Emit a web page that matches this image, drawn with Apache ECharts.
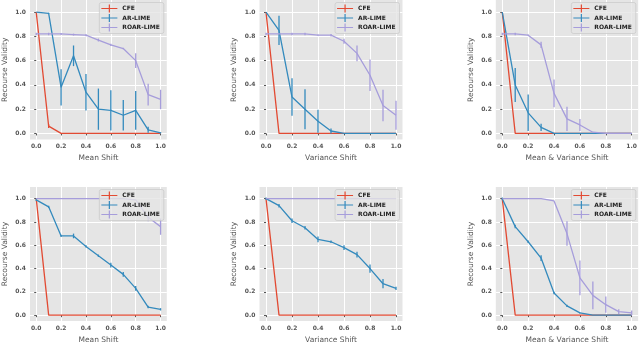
<!DOCTYPE html>
<html>
<head>
<meta charset="utf-8">
<script src="https://cdn.jsdelivr.net/npm/echarts@6/dist/echarts.min.js"></script>
<style>
  html, body { margin: 0; padding: 0; background: #fff; }
  #main { width: 640px; height: 345px; }
</style>
</head>
<body>
<div id="main"></div>
<script>
// x 轴：偏移量
const shifts = [0, 0.1, 0.2, 0.3, 0.4, 0.5, 0.6, 0.7, 0.8, 0.9, 1.0]
const yTicks = [0, 0.2, 0.4, 0.6, 0.8, 1.0]
const methods = ['CFE', 'AR-LIME', 'ROAR-LIME']
const colors = ['#E24A33', '#348ABD', '#A69DDB']
const xTitles = ['Mean Shift', 'Variance Shift', 'Mean & Variance Shift',
  'Mean Shift', 'Variance Shift', 'Mean & Variance Shift']

// 第一行
const p1Cfe = [1.0, 0.06, 0, 0, 0, 0, 0, 0, 0, 0, 0]
const p1CfeErr = [0, 0.015, 0, 0, 0, 0, 0, 0, 0, 0, 0]
const p1Ar = [1.0, 0.99, 0.38, 0.64, 0.34, 0.20, 0.19, 0.15, 0.19, 0.03, 0.005]
const p1ArErr = [0, 0.005, 0.15, 0.085, 0.15, 0.17, 0.165, 0.125, 0.16, 0.025, 0.005]
const p1Roar = [0.82, 0.82, 0.82, 0.815, 0.81, 0.77, 0.73, 0.70, 0.60, 0.32, 0.28]
const p1RoarErr = [0.01, 0.01, 0.008, 0.008, 0.008, 0.012, 0.01, 0.006, 0.06, 0.09, 0.08]

const p2Cfe = [1.0, 0, 0, 0, 0, 0, 0, 0, 0, 0, 0]
const p2CfeErr = [0, 0, 0, 0, 0, 0, 0, 0, 0, 0, 0]
const p2Ar = [1.0, 0.85, 0.30, 0.20, 0.10, 0.02, 0, 0, 0, 0, 0]
const p2ArErr = [0, 0.12, 0.155, 0.165, 0.095, 0.02, 0, 0, 0, 0, 0]
const p2Roar = [0.82, 0.82, 0.82, 0.82, 0.81, 0.81, 0.76, 0.66, 0.48, 0.23, 0.15]
const p2RoarErr = [0.01, 0, 0.01, 0.01, 0.005, 0.01, 0.02, 0.065, 0.13, 0.13, 0.12]

const p3Cfe = [1.0, 0, 0, 0, 0, 0, 0, 0, 0, 0, 0]
const p3CfeErr = [0, 0, 0, 0, 0, 0, 0, 0, 0, 0, 0]
const p3Ar = [1.0, 0.40, 0.17, 0.05, 0, 0, 0, 0, 0, 0, 0]
const p3ArErr = [0, 0.14, 0.15, 0.03, 0, 0, 0, 0, 0, 0, 0]
const p3Roar = [0.82, 0.82, 0.81, 0.73, 0.33, 0.12, 0.07, 0.01, 0, 0, 0]
const p3RoarErr = [0.01, 0.01, 0.005, 0.025, 0.115, 0.1, 0.05, 0, 0, 0, 0]

// 第二行
const p4Cfe = [1.0, 0, 0, 0, 0, 0, 0, 0, 0, 0, 0]
const p4CfeErr = [0, 0, 0, 0, 0, 0, 0, 0, 0, 0, 0]
const p4Ar = [0.99, 0.93, 0.68, 0.68, 0.59, 0.51, 0.43, 0.35, 0.23, 0.07, 0.05]
const p4ArErr = [0.01, 0.01, 0.01, 0.02, 0.01, 0.01, 0.02, 0.02, 0.02, 0.01, 0.01]
const p4Roar = [1.0, 1.0, 1.0, 1.0, 1.0, 1.0, 1.0, 1.0, 0.99, 0.84, 0.76]
const p4RoarErr = [0, 0, 0, 0, 0, 0, 0, 0, 0, 0.035, 0.07]

const p5Cfe = [1.0, 0, 0, 0, 0, 0, 0, 0, 0, 0, 0]
const p5CfeErr = [0, 0, 0, 0, 0, 0, 0, 0, 0, 0, 0]
const p5Ar = [1.0, 0.94, 0.81, 0.75, 0.65, 0.63, 0.58, 0.52, 0.40, 0.27, 0.23]
const p5ArErr = [0.01, 0.015, 0.02, 0.015, 0.025, 0.01, 0.02, 0.025, 0.035, 0.04, 0.015]
const p5Roar = [1.0, 1.0, 1.0, 1.0, 1.0, 1.0, 1.0, 1.0, 1.0, 1.0, 1.0]
const p5RoarErr = [0, 0, 0, 0, 0, 0, 0, 0, 0, 0, 0]

const p6Cfe = [1.0, 0, 0, 0, 0, 0, 0, 0, 0, 0, 0]
const p6CfeErr = [0, 0, 0, 0, 0, 0, 0, 0, 0, 0, 0]
const p6Ar = [1.0, 0.76, 0.63, 0.49, 0.19, 0.08, 0.02, 0, 0, 0, 0]
const p6ArErr = [0.01, 0.015, 0.01, 0.025, 0.01, 0.01, 0.005, 0, 0, 0, 0]
const p6Roar = [1.0, 1.0, 1.0, 1.0, 0.98, 0.70, 0.32, 0.17, 0.09, 0.03, 0.02]
const p6RoarErr = [0, 0, 0, 0, 0, 0.105, 0.15, 0.12, 0.07, 0.02, 0.02]

const panels = [
  [[p1Cfe, p1CfeErr], [p1Ar, p1ArErr], [p1Roar, p1RoarErr]],
  [[p2Cfe, p2CfeErr], [p2Ar, p2ArErr], [p2Roar, p2RoarErr]],
  [[p3Cfe, p3CfeErr], [p3Ar, p3ArErr], [p3Roar, p3RoarErr]],
  [[p4Cfe, p4CfeErr], [p4Ar, p4ArErr], [p4Roar, p4RoarErr]],
  [[p5Cfe, p5CfeErr], [p5Ar, p5ArErr], [p5Roar, p5RoarErr]],
  [[p6Cfe, p6CfeErr], [p6Ar, p6ArErr], [p6Roar, p6RoarErr]]
]

// 布局
const colLeft = [23.8, 259.5, 495.8]
const rowTop = [0, 187]
const gridW = 143
const gridH = 139.5

const tickColor = '#555'
const legendIcon = 'path://M0,3.4H16V4.6H0Z M7.4,0H8.6V8H7.4Z'

const myChart = echarts.init(document.getElementById('main'))

const grids = [], xAxes = [], yAxes = [], series = [], legends = []

panels.forEach((panel, i) => {
  const left = colLeft[i % 3]
  const top = rowTop[Math.floor(i / 3)]
  grids.push({ left: left, top: top, width: gridW, height: gridH, show: true, backgroundColor: '#E5E5E5', borderWidth: 0 })
  xAxes.push({
    gridIndex: i,
    type: 'value',
    min: -0.05,
    max: 1.05,
    splitNumber: 5,
    name: xTitles[i],
    nameLocation: 'middle',
    nameGap: 15,
    nameTextStyle: { color: tickColor, fontSize: 7.5, fontFamily: 'DejaVu Sans' },
    axisLine: { show: false },
    axisTick: { show: true, length: 2, lineStyle: { color: tickColor } },
    axisLabel: {
      color: tickColor, fontSize: 6, fontWeight: 'bold', fontFamily: 'DejaVu Sans', margin: 4,
      showMinLabel: false, showMaxLabel: false,
      formatter: v => v.toFixed(1)
    },
    splitLine: { show: true, showMinLine: false, showMaxLine: false, lineStyle: { color: '#fff', width: 1 } }
  })
  yAxes.push({
    gridIndex: i,
    type: 'value',
    min: -0.05,
    max: 1.1,
    splitNumber: 5,
    name: 'Recourse Validity',
    nameLocation: 'middle',
    nameGap: 21,
    nameTextStyle: { color: tickColor, fontSize: 7.5, fontFamily: 'DejaVu Sans' },
    axisLine: { show: false },
    axisTick: { show: true, length: 2, lineStyle: { color: tickColor } },
    axisLabel: {
      color: tickColor, fontSize: 6, fontWeight: 'bold', fontFamily: 'DejaVu Sans', margin: 4,
      showMinLabel: false, showMaxLabel: false,
      formatter: v => v.toFixed(1)
    },
    splitLine: { show: true, showMinLine: false, showMaxLine: false, lineStyle: { color: '#fff', width: 1 } }
  })

  panel.forEach(([vals, errs], k) => {
    series.push({
      name: methods[k],
      type: 'line',
      xAxisIndex: i,
      yAxisIndex: i,
      data: shifts.map((x, j) => [x, vals[j]]),
      showSymbol: false,
      symbol: 'none',
      lineStyle: { color: colors[k], width: 1.3 },
      itemStyle: { color: colors[k] },
      z: 2 + k,
      silent: true,
      animation: false
    })
    series.push({
      name: methods[k] + '-err',
      type: 'custom',
      xAxisIndex: i,
      yAxisIndex: i,
      data: shifts.map((x, j) => [x, vals[j] - errs[j], vals[j] + errs[j]]).filter((d, j) => errs[j] > 0),
      encode: { x: 0, y: [1, 2] },
      renderItem: function (params, api) {
        const p1 = api.coord([api.value(0), api.value(1)])
        const p2 = api.coord([api.value(0), api.value(2)])
        return {
          type: 'line',
          shape: { x1: p1[0], y1: p1[1], x2: p2[0], y2: p2[1] },
          style: { stroke: colors[k], lineWidth: 1.3 }
        }
      },
      z: 2 + k,
      silent: true,
      animation: false
    })
  })

  legends.push({
    data: methods,
    orient: 'vertical',
    right: 640 - (left + gridW) + 3,
    top: top + 2.5,
    icon: legendIcon,
    itemWidth: 16,
    itemHeight: 8,
    itemGap: 1.5,
    padding: [2, 4, 2, 2],
    backgroundColor: 'rgba(229,229,229,0.8)',
    borderColor: '#cccccc',
    borderWidth: 0.8,
    borderRadius: 2,
    selectedMode: false,
    textStyle: { color: '#222', fontSize: 6, fontWeight: 'bold', fontFamily: 'DejaVu Sans', lineHeight: 8 },
    z: 10
  })
})

const option = {
  backgroundColor: '#fff',
  animation: false,
  grid: grids,
  xAxis: xAxes,
  yAxis: yAxes,
  legend: legends,
  series: series
}
myChart.setOption(option)
</script>
</body>
</html>
